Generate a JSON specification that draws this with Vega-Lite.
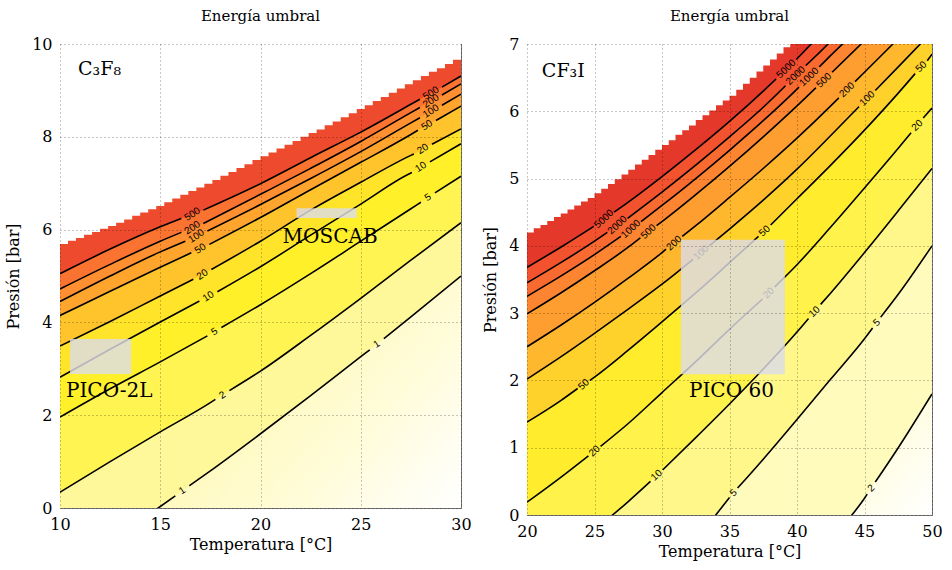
{
"$schema":"https://vega.github.io/schema/vega-lite/v6.json",
"padding":{"left":5,"top":8,"right":5,"bottom":5},
"bounds":"flush",
"spacing":66,
"config":{
 "view":{"stroke":"#777","fill":"#ffffff"},
 "font":"DejaVu Serif",
 "axis":{"grid":true,"gridColor":"#000","gridOpacity":0.45,"gridDash":[1,3],"zindex":1,"domain":false,"ticks":false,"labelFont":"DejaVu Serif","labelFontSize":16,"labelColor":"#000","labelPadding":8,"titleFont":"DejaVu Serif","titleFontSize":16,"titleFontWeight":"normal","titleColor":"#000","labelFlush":false,"labelOverlap":false},
 "title":{"font":"DejaVu Serif","fontSize":15,"fontWeight":"normal","color":"#000","offset":12}
},
"resolve":{"scale":{"x":"independent","y":"independent","color":"independent"}},
"datasets":{
"bg":[{"p":"A","T1":10,"T2":30,"P1":0,"P2":10},{"p":"B","T1":20,"T2":50,"P1":0,"P2":7}],
"c":[
{"p":"A","l":1,"s":0,"T":10,"P":-1.5},{"p":"A","l":1,"s":0,"T":12.5,"P":-0.76},{"p":"A","l":1,"s":0,"T":14.9,"P":0},{"p":"A","l":1,"s":0,"T":15.75,"P":0.26},
{"p":"A","l":1,"s":1,"T":16.45,"P":0.48},{"p":"A","l":1,"s":1,"T":17.5,"P":0.8},{"p":"A","l":1,"s":1,"T":20,"P":1.6},{"p":"A","l":1,"s":1,"T":22.5,"P":2.42},{"p":"A","l":1,"s":1,"T":25,"P":3.26},{"p":"A","l":1,"s":1,"T":25.45,"P":3.41},
{"p":"A","l":1,"s":2,"T":26.15,"P":3.65},{"p":"A","l":1,"s":2,"T":27.5,"P":4.12},{"p":"A","l":1,"s":2,"T":30,"P":5.0},
{"p":"A","l":2,"s":0,"T":10,"P":0.34},{"p":"A","l":2,"s":0,"T":12.5,"P":1.0},{"p":"A","l":2,"s":0,"T":15,"P":1.64},{"p":"A","l":2,"s":0,"T":17.5,"P":2.27},{"p":"A","l":2,"s":0,"T":17.75,"P":2.34},
{"p":"A","l":2,"s":1,"T":18.45,"P":2.53},{"p":"A","l":2,"s":1,"T":20,"P":2.95},{"p":"A","l":2,"s":1,"T":22.5,"P":3.72},{"p":"A","l":2,"s":1,"T":25,"P":4.52},{"p":"A","l":2,"s":1,"T":27.5,"P":5.34},{"p":"A","l":2,"s":1,"T":30,"P":6.15},
{"p":"A","l":5,"s":0,"T":10,"P":1.96},{"p":"A","l":5,"s":0,"T":12.5,"P":2.57},{"p":"A","l":5,"s":0,"T":15,"P":3.15},{"p":"A","l":5,"s":0,"T":17.35,"P":3.71},
{"p":"A","l":5,"s":1,"T":18.05,"P":3.89},{"p":"A","l":5,"s":1,"T":20,"P":4.38},{"p":"A","l":5,"s":1,"T":22.5,"P":5.05},{"p":"A","l":5,"s":1,"T":25,"P":5.75},{"p":"A","l":5,"s":1,"T":27.5,"P":6.45},{"p":"A","l":5,"s":1,"T":28.0,"P":6.59},
{"p":"A","l":5,"s":2,"T":28.7,"P":6.79},{"p":"A","l":5,"s":2,"T":30,"P":7.15},
{"p":"A","l":10,"s":0,"T":10,"P":2.82},{"p":"A","l":10,"s":0,"T":12.5,"P":3.42},{"p":"A","l":10,"s":0,"T":15,"P":4.01},{"p":"A","l":10,"s":0,"T":16.95,"P":4.46},
{"p":"A","l":10,"s":1,"T":17.85,"P":4.66},{"p":"A","l":10,"s":1,"T":20,"P":5.2},{"p":"A","l":10,"s":1,"T":22.5,"P":5.88},{"p":"A","l":10,"s":1,"T":25,"P":6.55},{"p":"A","l":10,"s":1,"T":27.5,"P":7.22},{"p":"A","l":10,"s":1,"T":27.55,"P":7.23},
{"p":"A","l":10,"s":2,"T":28.45,"P":7.46},{"p":"A","l":10,"s":2,"T":30,"P":7.85},
{"p":"A","l":20,"s":0,"T":10,"P":3.49},{"p":"A","l":20,"s":0,"T":12.5,"P":4.02},{"p":"A","l":20,"s":0,"T":15,"P":4.57},{"p":"A","l":20,"s":0,"T":16.65,"P":4.93},
{"p":"A","l":20,"s":1,"T":17.55,"P":5.14},{"p":"A","l":20,"s":1,"T":20,"P":5.75},{"p":"A","l":20,"s":1,"T":22.5,"P":6.42},{"p":"A","l":20,"s":1,"T":25,"P":7.02},{"p":"A","l":20,"s":1,"T":27.5,"P":7.6},{"p":"A","l":20,"s":1,"T":27.65,"P":7.63},
{"p":"A","l":20,"s":2,"T":28.55,"P":7.84},{"p":"A","l":20,"s":2,"T":30,"P":8.17},
{"p":"A","l":50,"s":0,"T":10,"P":4.15},{"p":"A","l":50,"s":0,"T":12.5,"P":4.67},{"p":"A","l":50,"s":0,"T":15,"P":5.19},{"p":"A","l":50,"s":0,"T":16.55,"P":5.5},
{"p":"A","l":50,"s":1,"T":17.45,"P":5.68},{"p":"A","l":50,"s":1,"T":20,"P":6.26},{"p":"A","l":50,"s":1,"T":22.5,"P":6.86},{"p":"A","l":50,"s":1,"T":25,"P":7.45},{"p":"A","l":50,"s":1,"T":27.5,"P":8.05},{"p":"A","l":50,"s":1,"T":27.85,"P":8.14},
{"p":"A","l":50,"s":2,"T":28.75,"P":8.35},{"p":"A","l":50,"s":2,"T":30,"P":8.66},
{"p":"A","l":100,"s":0,"T":10,"P":4.45},{"p":"A","l":100,"s":0,"T":12.5,"P":5.0},{"p":"A","l":100,"s":0,"T":15,"P":5.52},{"p":"A","l":100,"s":0,"T":16.25,"P":5.75},
{"p":"A","l":100,"s":1,"T":17.35,"P":5.97},{"p":"A","l":100,"s":1,"T":20,"P":6.54},{"p":"A","l":100,"s":1,"T":22.5,"P":7.1},{"p":"A","l":100,"s":1,"T":25,"P":7.68},{"p":"A","l":100,"s":1,"T":27.5,"P":8.3},{"p":"A","l":100,"s":1,"T":27.95,"P":8.41},
{"p":"A","l":100,"s":2,"T":29.05,"P":8.68},{"p":"A","l":100,"s":2,"T":30,"P":8.92},
{"p":"A","l":200,"s":0,"T":10,"P":4.72},{"p":"A","l":200,"s":0,"T":12.5,"P":5.25},{"p":"A","l":200,"s":0,"T":15,"P":5.75},{"p":"A","l":200,"s":0,"T":16.05,"P":5.94},
{"p":"A","l":200,"s":1,"T":17.15,"P":6.13},{"p":"A","l":200,"s":1,"T":20,"P":6.76},{"p":"A","l":200,"s":1,"T":22.5,"P":7.32},{"p":"A","l":200,"s":1,"T":25,"P":7.9},{"p":"A","l":200,"s":1,"T":27.5,"P":8.52},{"p":"A","l":200,"s":1,"T":27.95,"P":8.63},
{"p":"A","l":200,"s":2,"T":29.05,"P":8.9},{"p":"A","l":200,"s":2,"T":30,"P":9.14},
{"p":"A","l":500,"s":0,"T":10,"P":5.05},{"p":"A","l":500,"s":0,"T":12.5,"P":5.58},{"p":"A","l":500,"s":0,"T":15,"P":6.06},{"p":"A","l":500,"s":0,"T":16.05,"P":6.24},
{"p":"A","l":500,"s":1,"T":17.15,"P":6.42},{"p":"A","l":500,"s":1,"T":20,"P":6.99},{"p":"A","l":500,"s":1,"T":22.5,"P":7.55},{"p":"A","l":500,"s":1,"T":25,"P":8.1},{"p":"A","l":500,"s":1,"T":27.5,"P":8.7},{"p":"A","l":500,"s":1,"T":27.95,"P":8.81},
{"p":"A","l":500,"s":2,"T":29.05,"P":9.07},{"p":"A","l":500,"s":2,"T":30,"P":9.31},

{"p":"B","l":2,"s":0,"T":20,"P":-6},{"p":"B","l":2,"s":0,"T":30,"P":-3.2},{"p":"B","l":2,"s":0,"T":40,"P":-1.0},{"p":"B","l":2,"s":0,"T":42.5,"P":-0.38},{"p":"B","l":2,"s":0,"T":45,"P":0.25},{"p":"B","l":2,"s":0,"T":45.2,"P":0.31},
{"p":"B","l":2,"s":1,"T":45.8,"P":0.49},{"p":"B","l":2,"s":1,"T":47.5,"P":1.0},{"p":"B","l":2,"s":1,"T":50,"P":1.8},
{"p":"B","l":5,"s":0,"T":20,"P":-3.0},{"p":"B","l":5,"s":0,"T":25,"P":-2.0},{"p":"B","l":5,"s":0,"T":30,"P":-0.95},{"p":"B","l":5,"s":0,"T":32.5,"P":-0.37},{"p":"B","l":5,"s":0,"T":35,"P":0.26},
{"p":"B","l":5,"s":1,"T":35.6,"P":0.4},{"p":"B","l":5,"s":1,"T":37.5,"P":0.83},{"p":"B","l":5,"s":1,"T":40,"P":1.42},{"p":"B","l":5,"s":1,"T":42.5,"P":2.02},{"p":"B","l":5,"s":1,"T":45,"P":2.62},{"p":"B","l":5,"s":1,"T":45.6,"P":2.78},
{"p":"B","l":5,"s":2,"T":46.2,"P":2.94},{"p":"B","l":5,"s":2,"T":47.5,"P":3.28},{"p":"B","l":5,"s":2,"T":50,"P":4.0},
{"p":"B","l":10,"s":0,"T":20,"P":-1.0},{"p":"B","l":10,"s":0,"T":22.5,"P":-0.6},{"p":"B","l":10,"s":0,"T":25,"P":-0.22},{"p":"B","l":10,"s":0,"T":27.5,"P":0.2},{"p":"B","l":10,"s":0,"T":29.15,"P":0.5},
{"p":"B","l":10,"s":1,"T":30.05,"P":0.67},{"p":"B","l":10,"s":1,"T":32.5,"P":1.15},{"p":"B","l":10,"s":1,"T":35,"P":1.65},{"p":"B","l":10,"s":1,"T":37.5,"P":2.17},{"p":"B","l":10,"s":1,"T":40,"P":2.72},{"p":"B","l":10,"s":1,"T":40.85,"P":2.92},
{"p":"B","l":10,"s":2,"T":41.75,"P":3.13},{"p":"B","l":10,"s":2,"T":42.5,"P":3.3},{"p":"B","l":10,"s":2,"T":45,"P":3.9},{"p":"B","l":10,"s":2,"T":47.5,"P":4.52},{"p":"B","l":10,"s":2,"T":50,"P":5.15},
{"p":"B","l":20,"s":0,"T":20,"P":0.19},{"p":"B","l":20,"s":0,"T":22.5,"P":0.56},{"p":"B","l":20,"s":0,"T":24.55,"P":0.88},
{"p":"B","l":20,"s":1,"T":25.45,"P":1.02},{"p":"B","l":20,"s":1,"T":27.5,"P":1.36},{"p":"B","l":20,"s":1,"T":30,"P":1.82},{"p":"B","l":20,"s":1,"T":32.5,"P":2.28},{"p":"B","l":20,"s":1,"T":35,"P":2.76},{"p":"B","l":20,"s":1,"T":37.45,"P":3.21},
{"p":"B","l":20,"s":2,"T":38.35,"P":3.39},{"p":"B","l":20,"s":2,"T":40,"P":3.72},{"p":"B","l":20,"s":2,"T":42.5,"P":4.28},{"p":"B","l":20,"s":2,"T":45,"P":4.86},{"p":"B","l":20,"s":2,"T":47.5,"P":5.45},{"p":"B","l":20,"s":2,"T":48.45,"P":5.68},
{"p":"B","l":20,"s":3,"T":49.35,"P":5.9},{"p":"B","l":20,"s":3,"T":50,"P":6.05},
{"p":"B","l":50,"s":0,"T":20,"P":1.38},{"p":"B","l":50,"s":0,"T":22.5,"P":1.7},{"p":"B","l":50,"s":0,"T":23.75,"P":1.88},
{"p":"B","l":50,"s":1,"T":24.65,"P":2.0},{"p":"B","l":50,"s":1,"T":25,"P":2.05},{"p":"B","l":50,"s":1,"T":27.5,"P":2.45},{"p":"B","l":50,"s":1,"T":30,"P":2.87},{"p":"B","l":50,"s":1,"T":32.5,"P":3.3},{"p":"B","l":50,"s":1,"T":35,"P":3.75},{"p":"B","l":50,"s":1,"T":37.15,"P":4.14},
{"p":"B","l":50,"s":2,"T":38.05,"P":4.31},{"p":"B","l":50,"s":2,"T":40,"P":4.7},{"p":"B","l":50,"s":2,"T":42.5,"P":5.2},{"p":"B","l":50,"s":2,"T":45,"P":5.72},{"p":"B","l":50,"s":2,"T":47.5,"P":6.27},{"p":"B","l":50,"s":2,"T":48.75,"P":6.56},
{"p":"B","l":50,"s":3,"T":49.65,"P":6.75},{"p":"B","l":50,"s":3,"T":50,"P":6.85},
{"p":"B","l":100,"s":0,"T":20,"P":2.02},{"p":"B","l":100,"s":0,"T":22.5,"P":2.35},{"p":"B","l":100,"s":0,"T":25,"P":2.7},{"p":"B","l":100,"s":0,"T":27.5,"P":3.06},{"p":"B","l":100,"s":0,"T":30,"P":3.43},{"p":"B","l":100,"s":0,"T":32.3,"P":3.8},
{"p":"B","l":100,"s":1,"T":33.5,"P":4.0},{"p":"B","l":100,"s":1,"T":35,"P":4.25},{"p":"B","l":100,"s":1,"T":37.5,"P":4.68},{"p":"B","l":100,"s":1,"T":40,"P":5.14},{"p":"B","l":100,"s":1,"T":42.5,"P":5.64},{"p":"B","l":100,"s":1,"T":44.6,"P":6.07},
{"p":"B","l":100,"s":2,"T":45.8,"P":6.31},{"p":"B","l":100,"s":2,"T":47.5,"P":6.66},{"p":"B","l":100,"s":2,"T":50,"P":7.18},
{"p":"B","l":200,"s":0,"T":20,"P":2.5},{"p":"B","l":200,"s":0,"T":22.5,"P":2.82},{"p":"B","l":200,"s":0,"T":25,"P":3.16},{"p":"B","l":200,"s":0,"T":27.5,"P":3.52},{"p":"B","l":200,"s":0,"T":30,"P":3.9},{"p":"B","l":200,"s":0,"T":30.3,"P":3.95},
{"p":"B","l":200,"s":1,"T":31.5,"P":4.14},{"p":"B","l":200,"s":1,"T":32.5,"P":4.3},{"p":"B","l":200,"s":1,"T":35,"P":4.72},{"p":"B","l":200,"s":1,"T":37.5,"P":5.15},{"p":"B","l":200,"s":1,"T":40,"P":5.6},{"p":"B","l":200,"s":1,"T":42.5,"P":6.08},{"p":"B","l":200,"s":1,"T":43.1,"P":6.2},
{"p":"B","l":200,"s":2,"T":44.3,"P":6.44},{"p":"B","l":200,"s":2,"T":45,"P":6.58},{"p":"B","l":200,"s":2,"T":47.5,"P":7.08},{"p":"B","l":200,"s":2,"T":48,"P":7.18},
{"p":"B","l":500,"s":0,"T":20,"P":2.99},{"p":"B","l":500,"s":0,"T":22.5,"P":3.3},{"p":"B","l":500,"s":0,"T":25,"P":3.63},{"p":"B","l":500,"s":0,"T":27.5,"P":3.98},{"p":"B","l":500,"s":0,"T":28.4,"P":4.12},
{"p":"B","l":500,"s":1,"T":29.6,"P":4.3},{"p":"B","l":500,"s":1,"T":30,"P":4.36},{"p":"B","l":500,"s":1,"T":32.5,"P":4.76},{"p":"B","l":500,"s":1,"T":35,"P":5.18},{"p":"B","l":500,"s":1,"T":37.5,"P":5.62},{"p":"B","l":500,"s":1,"T":40,"P":6.08},{"p":"B","l":500,"s":1,"T":41.4,"P":6.35},
{"p":"B","l":500,"s":2,"T":42.6,"P":6.58},{"p":"B","l":500,"s":2,"T":45,"P":7.05},{"p":"B","l":500,"s":2,"T":46,"P":7.25},
{"p":"B","l":1000,"s":0,"T":20,"P":3.25},{"p":"B","l":1000,"s":0,"T":22.5,"P":3.55},{"p":"B","l":1000,"s":0,"T":25,"P":3.87},{"p":"B","l":1000,"s":0,"T":26.95,"P":4.14},
{"p":"B","l":1000,"s":1,"T":28.45,"P":4.36},{"p":"B","l":1000,"s":1,"T":30,"P":4.6},{"p":"B","l":1000,"s":1,"T":32.5,"P":5.0},{"p":"B","l":1000,"s":1,"T":35,"P":5.42},{"p":"B","l":1000,"s":1,"T":37.5,"P":5.86},{"p":"B","l":1000,"s":1,"T":40,"P":6.33},{"p":"B","l":1000,"s":1,"T":40.15,"P":6.36},
{"p":"B","l":1000,"s":2,"T":41.65,"P":6.66},{"p":"B","l":1000,"s":2,"T":42.5,"P":6.83},{"p":"B","l":1000,"s":2,"T":44,"P":7.12},
{"p":"B","l":2000,"s":0,"T":20,"P":3.45},{"p":"B","l":2000,"s":0,"T":22.5,"P":3.75},{"p":"B","l":2000,"s":0,"T":25,"P":4.07},{"p":"B","l":2000,"s":0,"T":25.95,"P":4.2},
{"p":"B","l":2000,"s":1,"T":27.45,"P":4.41},{"p":"B","l":2000,"s":1,"T":30,"P":4.8},{"p":"B","l":2000,"s":1,"T":32.5,"P":5.2},{"p":"B","l":2000,"s":1,"T":35,"P":5.62},{"p":"B","l":2000,"s":1,"T":37.5,"P":6.06},{"p":"B","l":2000,"s":1,"T":39.15,"P":6.38},
{"p":"B","l":2000,"s":2,"T":40.65,"P":6.68},{"p":"B","l":2000,"s":2,"T":42.3,"P":7.0},{"p":"B","l":2000,"s":2,"T":43,"P":7.15},
{"p":"B","l":5000,"s":0,"T":20,"P":3.68},{"p":"B","l":5000,"s":0,"T":22.5,"P":3.98},{"p":"B","l":5000,"s":0,"T":24.95,"P":4.29},
{"p":"B","l":5000,"s":1,"T":26.45,"P":4.5},{"p":"B","l":5000,"s":1,"T":27.5,"P":4.65},{"p":"B","l":5000,"s":1,"T":30,"P":5.03},{"p":"B","l":5000,"s":1,"T":32.5,"P":5.43},{"p":"B","l":5000,"s":1,"T":35,"P":5.85},{"p":"B","l":5000,"s":1,"T":37.5,"P":6.3},{"p":"B","l":5000,"s":1,"T":38.45,"P":6.48},
{"p":"B","l":5000,"s":2,"T":39.95,"P":6.77},{"p":"B","l":5000,"s":2,"T":42,"P":7.2}
],
"e":[
{"p":"A","T":10.0,"P":5.69},{"p":"A","T":10.4,"P":5.76},{"p":"A","T":10.8,"P":5.82},{"p":"A","T":11.2,"P":5.89},{"p":"A","T":11.6,"P":5.95},{"p":"A","T":12.0,"P":6.02},{"p":"A","T":12.4,"P":6.08},{"p":"A","T":12.8,"P":6.15},{"p":"A","T":13.2,"P":6.22},{"p":"A","T":13.6,"P":6.3},{"p":"A","T":14.0,"P":6.37},{"p":"A","T":14.4,"P":6.44},{"p":"A","T":14.8,"P":6.51},{"p":"A","T":15.2,"P":6.59},{"p":"A","T":15.6,"P":6.67},{"p":"A","T":16.0,"P":6.75},{"p":"A","T":16.4,"P":6.83},{"p":"A","T":16.8,"P":6.91},{"p":"A","T":17.2,"P":6.99},{"p":"A","T":17.6,"P":7.07},{"p":"A","T":18.0,"P":7.16},{"p":"A","T":18.4,"P":7.24},{"p":"A","T":18.8,"P":7.33},{"p":"A","T":19.2,"P":7.41},{"p":"A","T":19.6,"P":7.5},{"p":"A","T":20.0,"P":7.58},{"p":"A","T":20.4,"P":7.66},{"p":"A","T":20.8,"P":7.75},{"p":"A","T":21.2,"P":7.83},{"p":"A","T":21.6,"P":7.91},{"p":"A","T":22.0,"P":8.0},{"p":"A","T":22.4,"P":8.08},{"p":"A","T":22.8,"P":8.16},{"p":"A","T":23.2,"P":8.25},{"p":"A","T":23.6,"P":8.33},{"p":"A","T":24.0,"P":8.42},{"p":"A","T":24.4,"P":8.51},{"p":"A","T":24.8,"P":8.6},{"p":"A","T":25.2,"P":8.68},{"p":"A","T":25.6,"P":8.77},{"p":"A","T":26.0,"P":8.86},{"p":"A","T":26.4,"P":8.95},{"p":"A","T":26.8,"P":9.04},{"p":"A","T":27.2,"P":9.13},{"p":"A","T":27.6,"P":9.22},{"p":"A","T":28.0,"P":9.31},{"p":"A","T":28.4,"P":9.4},{"p":"A","T":28.8,"P":9.48},{"p":"A","T":29.2,"P":9.57},{"p":"A","T":29.6,"P":9.66},{"p":"A","T":30.0,"P":9.75},
{"p":"B","T":20.0,"P":4.2},{"p":"B","T":20.5,"P":4.26},{"p":"B","T":21.0,"P":4.31},{"p":"B","T":21.5,"P":4.37},{"p":"B","T":22.0,"P":4.43},{"p":"B","T":22.5,"P":4.48},{"p":"B","T":23.0,"P":4.54},{"p":"B","T":23.5,"P":4.6},{"p":"B","T":24.0,"P":4.66},{"p":"B","T":24.5,"P":4.71},{"p":"B","T":25.0,"P":4.78},{"p":"B","T":25.5,"P":4.85},{"p":"B","T":26.0,"P":4.92},{"p":"B","T":26.5,"P":4.99},{"p":"B","T":27.0,"P":5.06},{"p":"B","T":27.5,"P":5.13},{"p":"B","T":28.0,"P":5.21},{"p":"B","T":28.5,"P":5.28},{"p":"B","T":29.0,"P":5.35},{"p":"B","T":29.5,"P":5.43},{"p":"B","T":30.0,"P":5.5},{"p":"B","T":30.5,"P":5.57},{"p":"B","T":31.0,"P":5.65},{"p":"B","T":31.5,"P":5.72},{"p":"B","T":32.0,"P":5.79},{"p":"B","T":32.5,"P":5.87},{"p":"B","T":33.0,"P":5.94},{"p":"B","T":33.5,"P":6.01},{"p":"B","T":34.0,"P":6.09},{"p":"B","T":34.5,"P":6.16},{"p":"B","T":35.0,"P":6.23},{"p":"B","T":35.5,"P":6.32},{"p":"B","T":36.0,"P":6.41},{"p":"B","T":36.5,"P":6.5},{"p":"B","T":37.0,"P":6.59},{"p":"B","T":37.5,"P":6.68},{"p":"B","T":38.0,"P":6.77},{"p":"B","T":38.5,"P":6.86},{"p":"B","T":39.0,"P":6.95},{"p":"B","T":39.5,"P":7.04},{"p":"B","T":40.0,"P":7.13}
],
"lab":[
{"p":"A","t":"1","T":16.1,"P":0.37},{"p":"A","t":"1","T":25.8,"P":3.53},{"p":"A","t":"2","T":18.1,"P":2.43},
{"p":"A","t":"5","T":17.7,"P":3.8},{"p":"A","t":"5","T":28.35,"P":6.69},
{"p":"A","t":"10","T":17.4,"P":4.56},{"p":"A","t":"10","T":28.0,"P":7.35},
{"p":"A","t":"20","T":17.1,"P":5.03},{"p":"A","t":"20","T":28.1,"P":7.74},
{"p":"A","t":"50","T":17.0,"P":5.59},{"p":"A","t":"50","T":28.3,"P":8.25},
{"p":"A","t":"100","T":16.8,"P":5.86},{"p":"A","t":"100","T":28.5,"P":8.55},
{"p":"A","t":"200","T":16.6,"P":6.04},{"p":"A","t":"200","T":28.5,"P":8.77},
{"p":"A","t":"500","T":16.6,"P":6.33},{"p":"A","t":"500","T":28.5,"P":8.94},
{"p":"B","t":"5000","T":25.7,"P":4.4},{"p":"B","t":"5000","T":39.2,"P":6.63},
{"p":"B","t":"2000","T":26.7,"P":4.31},{"p":"B","t":"2000","T":39.9,"P":6.53},
{"p":"B","t":"1000","T":27.7,"P":4.25},{"p":"B","t":"1000","T":40.9,"P":6.51},
{"p":"B","t":"500","T":29.0,"P":4.21},{"p":"B","t":"500","T":42.0,"P":6.46},
{"p":"B","t":"200","T":30.9,"P":4.04},{"p":"B","t":"200","T":43.7,"P":6.32},
{"p":"B","t":"100","T":32.9,"P":3.9},{"p":"B","t":"100","T":45.2,"P":6.19},
{"p":"B","t":"50","T":24.2,"P":1.94},{"p":"B","t":"50","T":37.6,"P":4.22},{"p":"B","t":"50","T":49.2,"P":6.66},
{"p":"B","t":"20","T":25.0,"P":0.95},{"p":"B","t":"20","T":37.9,"P":3.3},{"p":"B","t":"20","T":48.9,"P":5.79},
{"p":"B","t":"10","T":29.6,"P":0.59},{"p":"B","t":"10","T":41.3,"P":3.02},
{"p":"B","t":"5","T":35.3,"P":0.33},{"p":"B","t":"5","T":45.9,"P":2.86},
{"p":"B","t":"2","T":45.5,"P":0.4}
],
"box":[
{"p":"A","T1":10.5,"T2":13.55,"P1":2.89,"P2":3.64},
{"p":"A","T1":21.8,"T2":24.8,"P1":6.25,"P2":6.46},
{"p":"B","T1":31.4,"T2":39.1,"P1":2.09,"P2":4.09}
],
"txt":[
{"p":"A","k":"b","t":"PICO-2L","T":10.3,"P":2.52},
{"p":"A","k":"b","t":"MOSCAB","T":21.1,"P":5.84},
{"p":"B","k":"b","t":"PICO 60","T":32.0,"P":1.84},
{"p":"A","k":"f","t":"C₃F₈","T":10.9,"P":9.46},
{"p":"B","k":"f","t":"CF₃I","T":21.1,"P":6.6}
]
},
"hconcat":[
{
"width":401,"height":464,
"title":{"text":"Energía umbral","font":"DejaVu Serif","fontSize":15,"fontWeight":"normal","color":"#000","offset":12},
"layer":[
{"data":{"name":"bg"},"transform":[{"filter":"datum.p=='A'"}],
 "mark":{"type":"rect","color":{"gradient":"linear","x1":0,"y1":0,"x2":1,"y2":1,"stops":[{"offset":0,"color":"#fff6a0"},{"offset":0.55,"color":"#fff9b4"},{"offset":0.8,"color":"#fffcda"},{"offset":1,"color":"#ffffff"}]}},
 "encoding":{
  "x":{"field":"T1","type":"quantitative","scale":{"domain":[10,30],"nice":false},"axis":{"title":"Temperatura [°C]","values":[10,15,20,25,30],"format":"d","zindex":1,"grid":true,"gridColor":"#000","gridOpacity":0.45,"gridDash":[1,3],"labelFont":"DejaVu Serif","labelFontSize":16,"titleFont":"DejaVu Serif","titleFontSize":16,"titleFontWeight":"normal","labelFlush":false,"titlePadding":4}},
  "x2":{"field":"T2"},
  "y":{"field":"P1","type":"quantitative","scale":{"domain":[0,10],"nice":false},"axis":{"title":"Presión [bar]","values":[0,2,4,6,8,10],"format":"d","zindex":1,"grid":true,"gridColor":"#000","gridOpacity":0.45,"gridDash":[1,3],"labelFont":"DejaVu Serif","labelFontSize":16,"titleFont":"DejaVu Serif","titleFontSize":16,"titleFontWeight":"normal","titlePadding":10}},
  "y2":{"field":"P2"}
 }},
{"data":{"name":"c"},"transform":[{"filter":"datum.p=='A'"}],
 "mark":{"type":"area","clip":true,"interpolate":"monotone"},
 "encoding":{
  "x":{"field":"T","type":"quantitative"},
  "y":{"field":"P","type":"quantitative","stack":null},
  "y2":{"datum":10},
  "color":{"field":"l","type":"ordinal","scale":{"domain":[1,2,5,10,20,50,100,200,500],"range":["#fff89a","#fff452","#fff02a","#ffe42a","#ffc42c","#ffa52e","#ff8f30","#fb7331","#ee4a2e"]},"legend":null},
  "detail":{"field":"l"}
 }},
{"data":{"name":"e"},"transform":[{"filter":"datum.p=='A'"}],
 "mark":{"type":"area","interpolate":"step-after","color":"#ffffff","clip":true},
 "encoding":{"x":{"field":"T","type":"quantitative"},"y":{"field":"P","type":"quantitative"},"y2":{"datum":10}}},
{"data":{"name":"c"},"transform":[{"filter":"datum.p=='A'"}],
 "mark":{"type":"line","color":"#000","strokeWidth":1.6,"clip":true,"interpolate":"monotone"},
 "encoding":{"x":{"field":"T","type":"quantitative"},"y":{"field":"P","type":"quantitative"},"detail":[{"field":"l"},{"field":"s"}]}},
{"data":{"name":"lab"},"transform":[{"filter":"datum.p=='A'"}],
 "mark":{"type":"text","angle":327,"font":"Liberation Sans","fontSize":10,"color":"#000"},
 "encoding":{"x":{"field":"T","type":"quantitative"},"y":{"field":"P","type":"quantitative"},"text":{"field":"t"}}},
{"data":{"name":"box"},"transform":[{"filter":"datum.p=='A'"}],
 "mark":{"type":"rect","color":"#dcdce8","opacity":0.82},
 "encoding":{"x":{"field":"T1","type":"quantitative"},"x2":{"field":"T2"},"y":{"field":"P1","type":"quantitative"},"y2":{"field":"P2"}}},
{"data":{"name":"txt"},"transform":[{"filter":"datum.p=='A' && datum.k=='b'"}],
 "mark":{"type":"text","align":"left","baseline":"middle","font":"DejaVu Serif","fontSize":20,"color":"#000"},
 "encoding":{"x":{"field":"T","type":"quantitative"},"y":{"field":"P","type":"quantitative"},"text":{"field":"t"}}},
{"data":{"name":"txt"},"transform":[{"filter":"datum.p=='A' && datum.k=='f'"}],
 "mark":{"type":"text","align":"left","baseline":"middle","font":"DejaVu Serif","fontSize":19,"color":"#000"},
 "encoding":{"x":{"field":"T","type":"quantitative"},"y":{"field":"P","type":"quantitative"},"text":{"field":"t"}}}
]
},
{
"width":405,"height":471,
"title":{"text":"Energía umbral","font":"DejaVu Serif","fontSize":15,"fontWeight":"normal","color":"#000","offset":12},
"layer":[
{"data":{"name":"bg"},"transform":[{"filter":"datum.p=='B'"}],
 "mark":{"type":"rect","color":{"gradient":"linear","x1":0,"y1":0,"x2":1,"y2":1,"stops":[{"offset":0,"color":"#fffbc4"},{"offset":0.8,"color":"#fffcd2"},{"offset":1,"color":"#ffffff"}]}},
 "encoding":{
  "x":{"field":"T1","type":"quantitative","scale":{"domain":[20,50],"nice":false},"axis":{"title":"Temperatura [°C]","values":[20,25,30,35,40,45,50],"format":"d","zindex":1,"grid":true,"gridColor":"#000","gridOpacity":0.45,"gridDash":[1,3],"labelFont":"DejaVu Serif","labelFontSize":16,"titleFont":"DejaVu Serif","titleFontSize":16,"titleFontWeight":"normal","labelFlush":false,"titlePadding":4}},
  "x2":{"field":"T2"},
  "y":{"field":"P1","type":"quantitative","scale":{"domain":[0,7],"nice":false},"axis":{"title":"Presión [bar]","values":[0,1,2,3,4,5,6,7],"format":"d","zindex":1,"grid":true,"gridColor":"#000","gridOpacity":0.45,"gridDash":[1,3],"labelFont":"DejaVu Serif","labelFontSize":16,"titleFont":"DejaVu Serif","titleFontSize":16,"titleFontWeight":"normal","titlePadding":10}},
  "y2":{"field":"P2"}
 }},
{"data":{"name":"c"},"transform":[{"filter":"datum.p=='B'"}],
 "mark":{"type":"area","clip":true,"interpolate":"monotone"},
 "encoding":{
  "x":{"field":"T","type":"quantitative"},
  "y":{"field":"P","type":"quantitative","stack":null},
  "y2":{"datum":8},
  "color":{"field":"l","type":"ordinal","scale":{"domain":[2,5,10,20,50,100,200,500,1000,2000,5000],"range":["#fffbbc","#fff78a","#fff24a","#ffec2c","#ffd22b","#ffb82e","#ff9e30","#fd8431","#f86a30","#f2522e","#e4382a"]},"legend":null},
  "detail":{"field":"l"}
 }},
{"data":{"name":"e"},"transform":[{"filter":"datum.p=='B'"}],
 "mark":{"type":"area","interpolate":"step-after","color":"#ffffff","clip":true},
 "encoding":{"x":{"field":"T","type":"quantitative"},"y":{"field":"P","type":"quantitative"},"y2":{"datum":8}}},
{"data":{"name":"c"},"transform":[{"filter":"datum.p=='B'"}],
 "mark":{"type":"line","color":"#000","strokeWidth":1.6,"clip":true,"interpolate":"monotone"},
 "encoding":{"x":{"field":"T","type":"quantitative"},"y":{"field":"P","type":"quantitative"},"detail":[{"field":"l"},{"field":"s"}]}},
{"data":{"name":"lab"},"transform":[{"filter":"datum.p=='B'"}],
 "mark":{"type":"text","angle":317,"font":"Liberation Sans","fontSize":10,"color":"#000"},
 "encoding":{"x":{"field":"T","type":"quantitative"},"y":{"field":"P","type":"quantitative"},"text":{"field":"t"}}},
{"data":{"name":"box"},"transform":[{"filter":"datum.p=='B'"}],
 "mark":{"type":"rect","color":"#dcdce8","opacity":0.82},
 "encoding":{"x":{"field":"T1","type":"quantitative"},"x2":{"field":"T2"},"y":{"field":"P1","type":"quantitative"},"y2":{"field":"P2"}}},
{"data":{"name":"txt"},"transform":[{"filter":"datum.p=='B' && datum.k=='b'"}],
 "mark":{"type":"text","align":"left","baseline":"middle","font":"DejaVu Serif","fontSize":20,"color":"#000"},
 "encoding":{"x":{"field":"T","type":"quantitative"},"y":{"field":"P","type":"quantitative"},"text":{"field":"t"}}},
{"data":{"name":"txt"},"transform":[{"filter":"datum.p=='B' && datum.k=='f'"}],
 "mark":{"type":"text","align":"left","baseline":"middle","font":"DejaVu Serif","fontSize":19,"color":"#000"},
 "encoding":{"x":{"field":"T","type":"quantitative"},"y":{"field":"P","type":"quantitative"},"text":{"field":"t"}}}
]
}
]
}
